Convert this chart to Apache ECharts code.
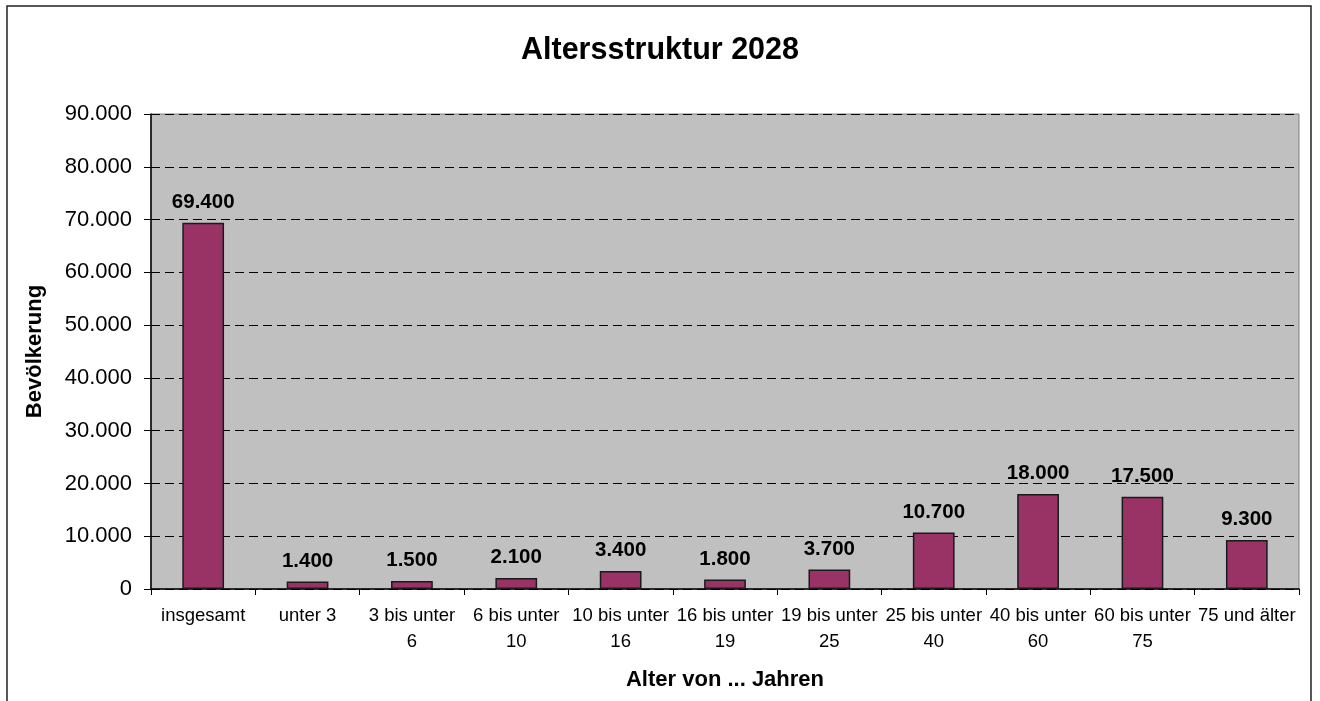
<!DOCTYPE html>
<html>
<head>
<meta charset="utf-8">
<script src="https://cdn.jsdelivr.net/npm/echarts@6/dist/echarts.min.js"></script>
<style>
html,body{margin:0;padding:0;background:#fff;}
#chart{width:1320px;height:701px;}
</style>
</head>
<body>
<div id="chart"></div>
<script>
const title = 'Altersstruktur 2028';
const categories = ['insgesamt', 'unter 3', '3 bis unter 6', '6 bis unter 10', '10 bis unter 16', '16 bis unter 19', '19 bis unter 25', '25 bis unter 40', '40 bis unter 60', '60 bis unter 75', '75 und älter'];
const population = [69400, 1400, 1500, 2100, 3400, 1800, 3700, 10700, 18000, 17500, 9300];
const xAxisName = 'Alter von ... Jahren';
const yAxisName = 'Bevölkerung';
const yMin = 0, yMax = 90000, yStep = 10000;

function fmt(v) {
  return String(Math.round(v)).replace(/\B(?=(\d{3})+(?!\d))/g, '.');
}
const FONT = '"Liberation Sans", Arial, sans-serif';

const chart = echarts.init(document.getElementById('chart'), null, {renderer: 'canvas'});
chart.setOption({
  animation: false,
  backgroundColor: '#ffffff',
  textStyle: {fontFamily: FONT, color: '#000'},
  graphic: [{
    type: 'rect',
    shape: {x: 7, y: 6, width: 1304, height: 720},
    style: {fill: 'none', stroke: '#222', lineWidth: 1.5},
    silent: true
  }],
  title: {
    text: title,
    left: 'center',
    top: 30,
    textStyle: {fontFamily: FONT, fontSize: 30.5, fontWeight: 'bold', color: '#000'}
  },
  grid: {
    left: 151, right: 21, top: 114, bottom: 112,
    show: true,
    backgroundColor: '#C0C0C0',
    borderColor: '#808080',
    borderWidth: 1
  },
  xAxis: {
    type: 'category',
    data: categories,
    name: xAxisName,
    nameLocation: 'middle',
    nameGap: 80,
    nameTextStyle: {fontFamily: FONT, fontSize: 22, fontWeight: 'bold', color: '#000'},
    axisLine: {show: true, lineStyle: {color: '#000', width: 1.5}},
    axisTick: {show: true, alignWithLabel: false, length: 6, lineStyle: {color: '#000', width: 1}},
    axisLabel: {
      interval: 0,
      margin: 14,
      fontFamily: FONT,
      fontSize: 18.5,
      lineHeight: 26,
      color: '#000',
      formatter: function (v) { return v.replace(/ unter (\d+)$/, ' unter\n$1'); }
    },
    splitLine: {show: false}
  },
  yAxis: {
    type: 'value',
    min: yMin, max: yMax, interval: yStep,
    name: yAxisName,
    nameLocation: 'middle',
    nameGap: 105,
    nameTextStyle: {fontFamily: FONT, fontSize: 22, fontWeight: 'bold', color: '#000'},
    axisLine: {show: true, lineStyle: {color: '#000', width: 1.5}},
    axisTick: {show: true, length: 7, lineStyle: {color: '#000', width: 1}},
    axisLabel: {
      margin: 19,
      fontFamily: FONT,
      fontSize: 22,
      color: '#000',
      formatter: fmt
    },
    splitLine: {show: true, lineStyle: {color: '#000', type: [9, 5], width: 1}}
  },
  series: [{
    type: 'bar',
    data: population,
    barWidth: '40%',
    itemStyle: {color: '#993366', borderColor: '#1a1a1a', borderWidth: 1.5},
    label: {
      show: true,
      position: 'top',
      distance: 10,
      fontFamily: FONT,
      fontSize: 20.5,
      fontWeight: 'bold',
      color: '#000',
      formatter: function (p) { return fmt(p.value); }
    }
  }]
});
</script>
</body>
</html>
